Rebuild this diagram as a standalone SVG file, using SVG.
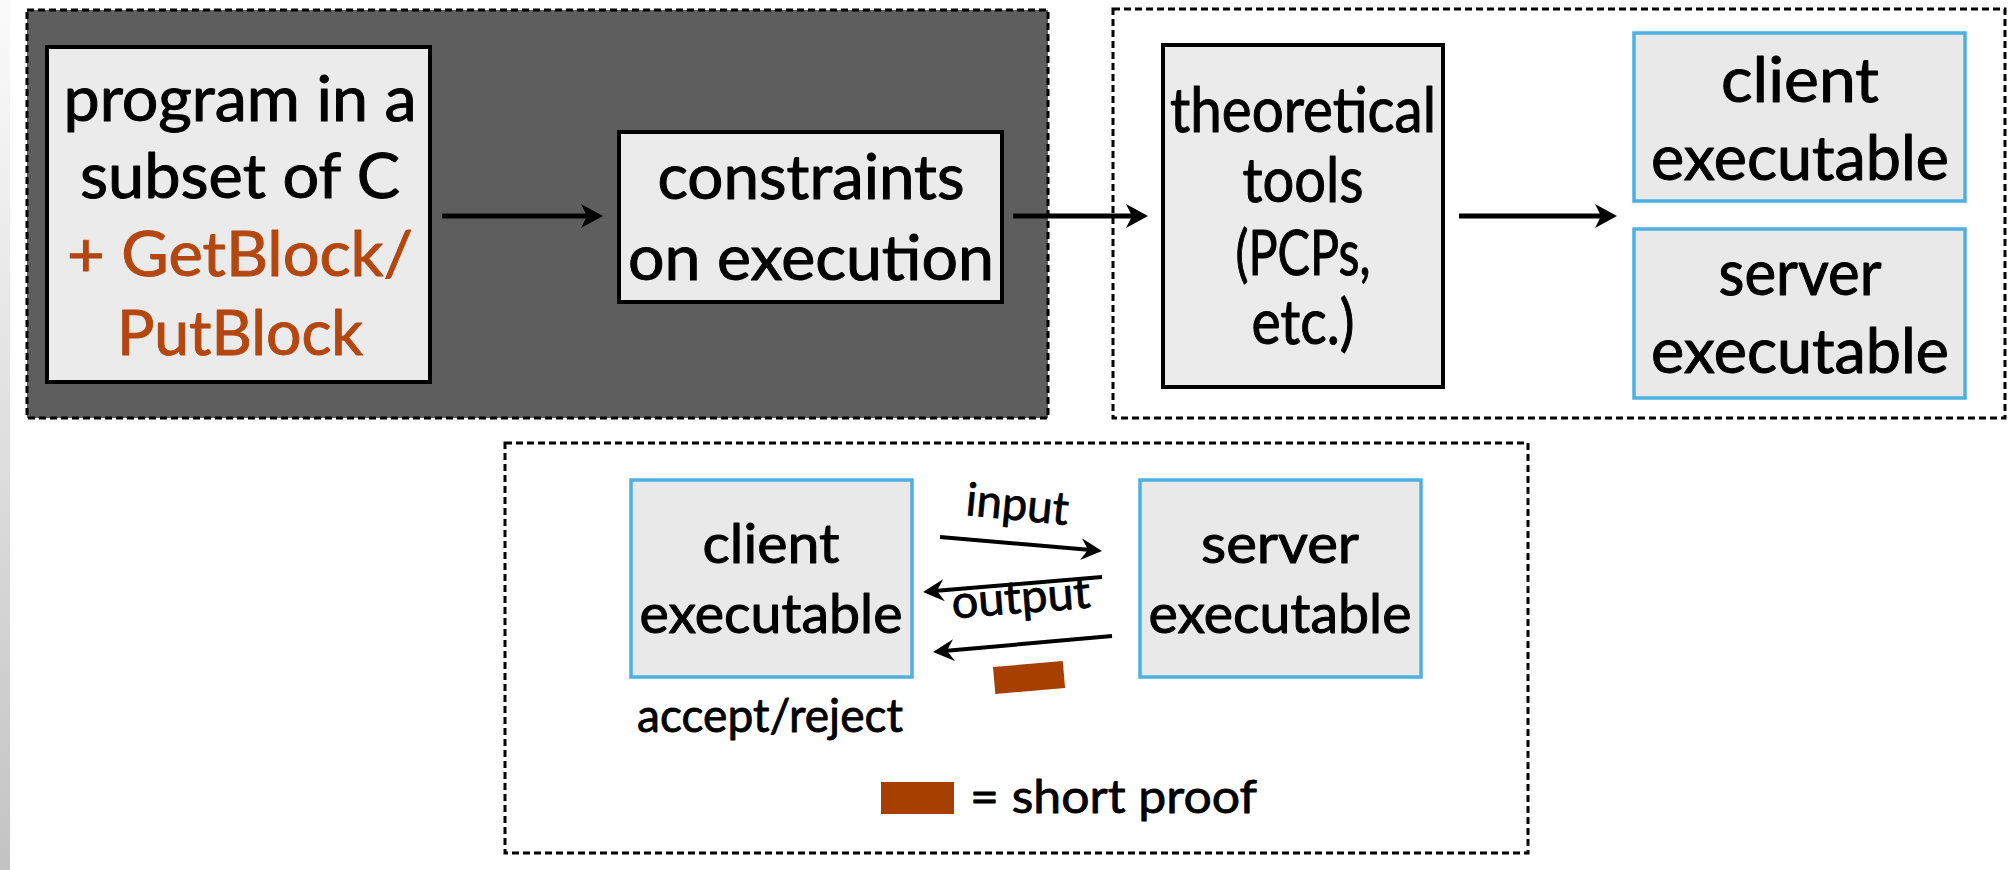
<svg xmlns="http://www.w3.org/2000/svg" width="2011" height="870" viewBox="0 0 2011 870">
<defs>
<linearGradient id="strip" x1="0" y1="0" x2="0" y2="1">
<stop offset="0" stop-color="#fbfbfb"/>
<stop offset="1" stop-color="#c3c3c3"/>
</linearGradient>
<marker id="ah" markerUnits="userSpaceOnUse" viewBox="-24 -14 28 28" refX="-12" refY="0" markerWidth="28" markerHeight="28" orient="auto">
<path d="M0,0 L-22,-12 L-16,0 L-22,12 Z" fill="#000"/>
</marker>
<marker id="ah2" markerUnits="userSpaceOnUse" viewBox="-24 -14 28 28" refX="-11" refY="0" markerWidth="28" markerHeight="28" orient="auto">
<path d="M0,0 L-21,-11 L-14,0 L-21,11 Z" fill="#000"/>
</marker>
</defs>
<style>
text{font-family:Lato,"Liberation Sans",sans-serif;fill:#000;stroke:#000;stroke-width:1;stroke-linejoin:round;text-anchor:middle}
.big{font-size:62px}
.mid{font-size:54px}
.sm{font-size:46px;stroke-width:0.8}
.or{fill:#b4470f;stroke:#b4470f}
.dash{fill:none;stroke:#000;stroke-width:3;stroke-dasharray:7 4}
.bk{fill:#ebebeb;stroke:#000;stroke-width:4}
.bl{fill:#e9e9e9;stroke:#4db0e2;stroke-width:3.5}
.ar{stroke:#000;stroke-width:5;fill:none;marker-end:url(#ah)}
.ar2{stroke:#000;stroke-width:4;fill:none;marker-end:url(#ah2)}
.pr{fill:#a63f00}
</style>
<rect x="0" y="0" width="2011" height="870" fill="#fff"/>
<rect x="0" y="0" width="10" height="870" fill="url(#strip)"/>

<g id="frame-left">
<rect x="27" y="10" width="1021" height="408" fill="#5e5e5e"/>
<rect x="27" y="10" width="1021" height="408" class="dash"/>
</g>
<g id="frame-right">
<rect x="1113" y="9" width="892" height="409" class="dash"/>
</g>
<g id="frame-bottom">
<rect x="505" y="443" width="1023" height="410" class="dash"/>
</g>

<g id="program">
<rect x="47" y="47" width="383" height="335" class="bk"/>
<text class="big" x="240" y="121" textLength="353" lengthAdjust="spacingAndGlyphs">program in a</text>
<text class="big" x="240" y="198" textLength="320" lengthAdjust="spacingAndGlyphs">subset of C</text>
<text class="big or" x="240" y="276" textLength="346" lengthAdjust="spacingAndGlyphs">+ GetBlock/</text>
<text class="big or" x="240" y="355" textLength="246" lengthAdjust="spacingAndGlyphs">PutBlock</text>
</g>

<g id="constraints">
<rect x="619" y="132" width="383" height="170" class="bk"/>
<text class="big" x="811" y="199" textLength="307" lengthAdjust="spacingAndGlyphs">constraints</text>
<text class="big" x="811" y="280" textLength="366" lengthAdjust="spacingAndGlyphs">on execution</text>
</g>

<g id="theoretical">
<rect x="1163" y="45" width="280" height="342" class="bk"/>
<text class="big" x="1303" y="132" textLength="266" lengthAdjust="spacingAndGlyphs">theoretical</text>
<text class="big" x="1303" y="202" textLength="121" lengthAdjust="spacingAndGlyphs">tools</text>
<text class="big" x="1303" y="275" textLength="135" lengthAdjust="spacingAndGlyphs">(PCPs,</text>
<text class="big" x="1303" y="344" textLength="103" lengthAdjust="spacingAndGlyphs">etc.)</text>
</g>

<g id="client-top">
<rect x="1634" y="33" width="331" height="168" class="bl"/>
<text class="big" x="1800" y="102" textLength="158" lengthAdjust="spacingAndGlyphs">client</text>
<text class="big" x="1800" y="180" textLength="298" lengthAdjust="spacingAndGlyphs">executable</text>
</g>

<g id="server-top">
<rect x="1634" y="229" width="331" height="169" class="bl"/>
<text class="big" x="1800" y="295" textLength="163" lengthAdjust="spacingAndGlyphs">server</text>
<text class="big" x="1800" y="373" textLength="298" lengthAdjust="spacingAndGlyphs">executable</text>
</g>

<g id="client-bottom">
<rect x="631" y="480" width="281" height="197" class="bl"/>
<text class="mid" x="771" y="563" textLength="137" lengthAdjust="spacingAndGlyphs">client</text>
<text class="mid" x="771" y="633" textLength="263" lengthAdjust="spacingAndGlyphs">executable</text>
</g>

<g id="server-bottom">
<rect x="1140" y="480" width="281" height="197" class="bl"/>
<text class="mid" x="1280" y="563" textLength="158" lengthAdjust="spacingAndGlyphs">server</text>
<text class="mid" x="1280" y="633" textLength="263" lengthAdjust="spacingAndGlyphs">executable</text>
</g>

<g id="accept-label">
<text class="sm" x="770" y="732" textLength="266" lengthAdjust="spacingAndGlyphs">accept/reject</text>
</g>

<g id="proof">
<rect x="994" y="664" width="70" height="27" class="pr" transform="rotate(-5 1029 677)"/>
</g>

<g id="legend">
<rect x="881" y="782" width="73" height="32" class="pr"/>
<text class="sm" x="970" y="813" style="text-anchor:start" textLength="287" lengthAdjust="spacingAndGlyphs">= short proof</text>
</g>

<g id="connectors">
<line x1="442" y1="216" x2="591" y2="216" class="ar"/>
<line x1="1013" y1="216" x2="1136" y2="216" class="ar"/>
<line x1="1459" y1="216" x2="1605" y2="216" class="ar"/>
<line x1="940" y1="537" x2="1091" y2="550" class="ar2"/>
<line x1="1102" y1="577" x2="934" y2="591" class="ar2"/>
<line x1="1112" y1="636" x2="944" y2="651" class="ar2"/>
<text class="sm" x="1016" y="520" transform="rotate(5.5 1016 520)" textLength="103" lengthAdjust="spacingAndGlyphs">input</text>
<text class="sm" x="1022" y="613" transform="rotate(-4.5 1022 613)" textLength="139" lengthAdjust="spacingAndGlyphs">output</text>
</g>
</svg>
